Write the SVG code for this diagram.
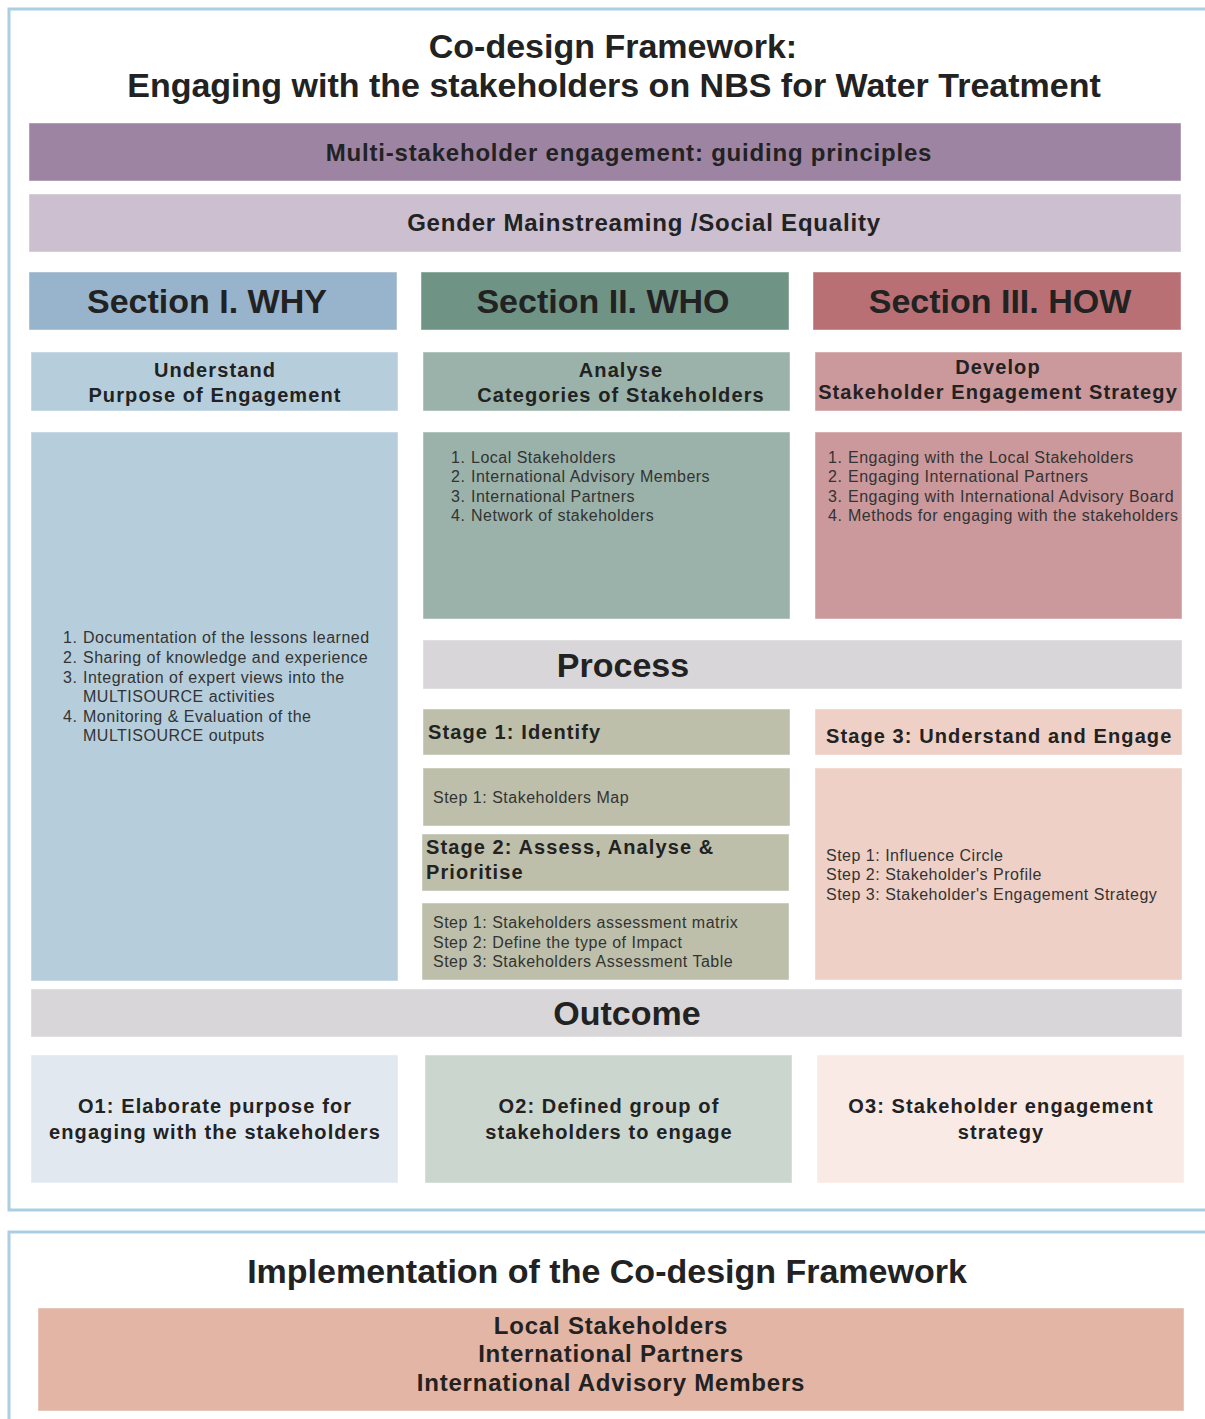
<svg xmlns="http://www.w3.org/2000/svg" width="1205" height="1419" viewBox="0 0 1205 1419">
  <style>
    text { font-family: "Liberation Sans", Arial, sans-serif; fill: #222; }
    .title { font-size: 34px; font-weight: bold; text-anchor: middle; }
    .banner { font-size: 24px; font-weight: bold; letter-spacing: 0.8px; text-anchor: middle; }
    .sect { font-size: 34px; font-weight: bold; text-anchor: middle; }
    .sub { font-size: 20px; font-weight: bold; letter-spacing: 1.1px; text-anchor: middle; }
    .stage { font-size: 20px; font-weight: bold; letter-spacing: 1.1px; }
    .item { font-size: 16px; letter-spacing: 0.5px; fill: #333; }
    .box { stroke: #ffffff; stroke-opacity: 0.45; stroke-width: 1; }
    .frame { fill: none; stroke: #aacfe2; stroke-width: 3; }
  </style>

  <rect width="1205" height="1419" fill="#ffffff"/>

  <!-- outer frames -->
  <rect class="frame" x="9" y="9" width="1210" height="1201"/>
  <rect class="frame" x="9" y="1232" width="1210" height="200"/>

  <g id="title">
    <text class="title" x="613" y="58">Co-design Framework:</text>
    <text class="title" x="614" y="97">Engaging with the stakeholders on NBS for Water Treatment</text>
  </g>

  <g id="principles">
    <rect class="box" x="29" y="123" width="1152" height="58" fill="#9e84a3"/>
    <text class="banner" x="629" y="161">Multi-stakeholder engagement: guiding principles</text>
  </g>

  <g id="gender">
    <rect class="box" x="29" y="194" width="1152" height="58" fill="#cbbfd0"/>
    <text class="banner" x="644" y="231">Gender Mainstreaming /Social Equality</text>
  </g>

  <!-- section headers -->
  <g id="section-why">
    <rect class="box" x="29" y="272" width="368" height="58" fill="#98b4cc"/>
    <text class="sect" x="207" y="313">Section I. WHY</text>
  </g>
  <g id="section-who">
    <rect class="box" x="421" y="272" width="368" height="58" fill="#6f9486"/>
    <text class="sect" x="603" y="313">Section II. WHO</text>
  </g>
  <g id="section-how">
    <rect class="box" x="813" y="272" width="368" height="58" fill="#b97074"/>
    <text class="sect" x="1000" y="313">Section III. HOW</text>
  </g>

  <!-- sub headers -->
  <g id="sub-why">
    <rect class="box" x="31" y="352" width="367" height="59" fill="#b6cedc"/>
    <text class="sub" x="215" y="377">Understand</text>
    <text class="sub" x="215" y="402">Purpose of Engagement</text>
  </g>
  <g id="sub-who">
    <rect class="box" x="423" y="352" width="367" height="59" fill="#9ab2a9"/>
    <text class="sub" x="621" y="377">Analyse</text>
    <text class="sub" x="621" y="402">Categories of Stakeholders</text>
  </g>
  <g id="sub-how">
    <rect class="box" x="815" y="352" width="367" height="59" fill="#cb989b"/>
    <text class="sub" x="998" y="374">Develop</text>
    <text class="sub" x="998" y="399">Stakeholder Engagement Strategy</text>
  </g>

  <!-- content lists -->
  <g id="list-why">
    <rect class="box" x="31" y="432" width="367" height="549" fill="#b6cedc"/>
    <text class="item" x="63" y="643">1.</text><text class="item" x="83" y="643">Documentation of the lessons learned</text>
    <text class="item" x="63" y="663">2.</text><text class="item" x="83" y="663">Sharing of knowledge and experience</text>
    <text class="item" x="63" y="683">3.</text><text class="item" x="83" y="683">Integration of expert views into the</text>
    <text class="item" x="83" y="702">MULTISOURCE activities</text>
    <text class="item" x="63" y="722">4.</text><text class="item" x="83" y="722">Monitoring &amp; Evaluation of the</text>
    <text class="item" x="83" y="741">MULTISOURCE outputs</text>
  </g>
  <g id="list-who">
    <rect class="box" x="423" y="432" width="367" height="187" fill="#9ab2a9"/>
    <text class="item" x="451" y="463">1.</text><text class="item" x="471" y="463">Local Stakeholders</text>
    <text class="item" x="451" y="482">2.</text><text class="item" x="471" y="482">International Advisory Members</text>
    <text class="item" x="451" y="502">3.</text><text class="item" x="471" y="502">International Partners</text>
    <text class="item" x="451" y="521">4.</text><text class="item" x="471" y="521">Network of stakeholders</text>
  </g>
  <g id="list-how">
    <rect class="box" x="815" y="432" width="367" height="187" fill="#cb989b"/>
    <text class="item" x="828" y="463">1.</text><text class="item" x="848" y="463">Engaging with the Local Stakeholders</text>
    <text class="item" x="828" y="482">2.</text><text class="item" x="848" y="482">Engaging International Partners</text>
    <text class="item" x="828" y="502">3.</text><text class="item" x="848" y="502">Engaging with International Advisory Board</text>
    <text class="item" x="828" y="521">4.</text><text class="item" x="848" y="521">Methods for engaging with the stakeholders</text>
  </g>

  <!-- process -->
  <g id="process">
    <rect class="box" x="423" y="640" width="759" height="49" fill="#d8d6d8"/>
    <text class="sect" x="623" y="677">Process</text>
  </g>
  <g id="stage-1">
    <rect class="box" x="423" y="709" width="367" height="46" fill="#bdbfaa"/>
    <text class="stage" x="428" y="739">Stage 1: Identify</text>
  </g>
  <g id="stage-1-steps">
    <rect class="box" x="423" y="768" width="367" height="58" fill="#bdbfaa"/>
    <text class="item" x="433" y="803">Step 1: Stakeholders Map</text>
  </g>
  <g id="stage-2">
    <rect class="box" x="422" y="834" width="367" height="57" fill="#bdbfaa"/>
    <text class="stage" x="426" y="854">Stage 2: Assess, Analyse &amp;</text>
    <text class="stage" x="426" y="879">Prioritise</text>
  </g>
  <g id="stage-2-steps">
    <rect class="box" x="422" y="903" width="367" height="77" fill="#bdbfaa"/>
    <text class="item" x="433" y="928">Step 1: Stakeholders assessment matrix</text>
    <text class="item" x="433" y="948">Step 2: Define the type of Impact</text>
    <text class="item" x="433" y="967">Step 3: Stakeholders Assessment Table</text>
  </g>
  <g id="stage-3">
    <rect class="box" x="815" y="709" width="367" height="46" fill="#efd0c6"/>
    <text class="stage" x="826" y="743">Stage 3: Understand and Engage</text>
  </g>
  <g id="stage-3-steps">
    <rect class="box" x="815" y="768" width="367" height="212" fill="#efd0c6"/>
    <text class="item" x="826" y="861">Step 1: Influence Circle</text>
    <text class="item" x="826" y="880">Step 2: Stakeholder's Profile</text>
    <text class="item" x="826" y="900">Step 3: Stakeholder's Engagement Strategy</text>
  </g>

  <!-- outcome -->
  <g id="outcome">
    <rect class="box" x="31" y="989" width="1151" height="48" fill="#d8d6d8"/>
    <text class="sect" x="627" y="1025">Outcome</text>
  </g>
  <g id="outcome-1">
    <rect class="box" x="31" y="1055" width="367" height="128" fill="#e1e8ef"/>
    <text class="sub" x="215" y="1113">O1: Elaborate purpose for</text>
    <text class="sub" x="215" y="1139">engaging with the stakeholders</text>
  </g>
  <g id="outcome-2">
    <rect class="box" x="425" y="1055" width="367" height="128" fill="#cbd6cf"/>
    <text class="sub" x="609" y="1113">O2: Defined group of</text>
    <text class="sub" x="609" y="1139">stakeholders to engage</text>
  </g>
  <g id="outcome-3">
    <rect class="box" x="817" y="1055" width="367" height="128" fill="#f9eae6"/>
    <text class="sub" x="1001" y="1113">O3: Stakeholder engagement</text>
    <text class="sub" x="1001" y="1139">strategy</text>
  </g>

  <!-- implementation -->
  <g id="implementation">
    <text class="title" x="607" y="1283">Implementation of the Co-design Framework</text>
  </g>
  <g id="implementation-groups">
    <rect class="box" x="38" y="1308" width="1146" height="103" fill="#e2b5a5"/>
    <text class="banner" x="611" y="1334">Local Stakeholders</text>
    <text class="banner" x="611" y="1362">International Partners</text>
    <text class="banner" x="611" y="1391">International Advisory Members</text>
  </g>

  <!-- no connectors in this layout -->
  <g id="connectors"/>
</svg>
